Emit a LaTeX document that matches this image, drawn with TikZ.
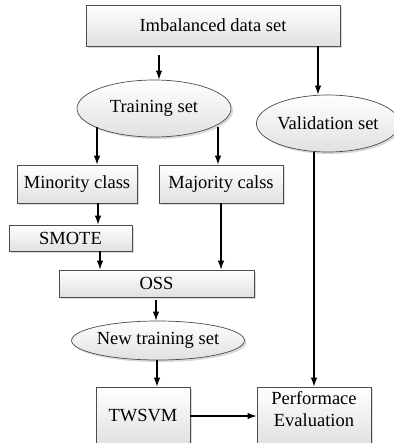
\documentclass[tikz,border=0pt]{standalone}
\usepackage{fontspec}
\setmainfont{Liberation Serif}
\usetikzlibrary{arrows.meta,shapes.geometric,shadows}
\begin{document}
\begin{tikzpicture}[x=1pt,y=-1pt,
  box/.style={draw=black!70,line width=0.7pt,rectangle,top color=white,bottom color=black!12,
    drop shadow={shadow xshift=2pt,shadow yshift=-2pt,fill=black!25,opacity=0.6},
    inner sep=0pt,font=\fontsize{18.5}{21}\selectfont},
  oval/.style={draw=black!70,line width=0.7pt,ellipse,top color=white,bottom color=black!12,
    drop shadow={shadow xshift=2pt,shadow yshift=-2pt,fill=black!25,opacity=0.6},
    inner sep=0pt,font=\fontsize{18.5}{21}\selectfont},
  txt/.style={inner sep=0pt,align=center,font=\fontsize{18.5}{22}\selectfont},
  arr/.style={-{Latex[length=9pt,width=6.5pt]},line width=1.2pt,black}]
\useasboundingbox (0,0) rectangle (393,443);
\node[box,minimum width=254pt,minimum height=41pt] (imb) at (213,25.5) {Imbalanced data set};
\node[oval,minimum width=154pt,minimum height=57pt] (train) at (154,108.5) {Training set};
\node[oval,minimum width=130pt,minimum height=57pt] (valid) at (328,123.5) {Validation set};
\node[box,minimum width=120pt,minimum height=38pt] (minority) at (77,184) {Minority class};
\node[box,minimum width=124pt,minimum height=38pt] (majority) at (221,184) {Majority calss};
\node[box,minimum width=123pt,minimum height=26pt] (smote) at (70.5,238) {SMOTE};
\node[box,minimum width=195pt,minimum height=27pt] (oss) at (156.5,283.5) {OSS};
\node[oval,minimum width=146pt,minimum height=39pt] (newtr) at (158,340.5) {New training set};
\node[box,minimum width=94pt,minimum height=58pt] (twsvm) at (143,416) {TWSVM};
\node[box,minimum width=114pt,minimum height=58pt] (perf) at (314,416) {};
\node[txt] (perftext) at (314,409) {Performace\\Evaluation};
% connectors
\draw[arr] (159,55) coordinate (a1) -- (a1 |- train.north);
\draw[arr] (318,0 |- imb.south) -- (318,0 |- valid.north);
\draw[arr] (97,127) coordinate (a2) -- (a2 |- minority.north);
\draw[arr] (218,127) coordinate (a3) -- (a3 |- majority.north);
\draw[arr] (98,0 |- minority.south) -- (98,0 |- smote.north);
\draw[arr] (100,0 |- smote.south) -- (100,0 |- oss.north);
\draw[arr] (221,0 |- majority.south) -- (221,0 |- oss.north);
\draw[arr] (314,0 |- valid.south) -- (314,0 |- perf.north);
\draw[arr] (156,300) coordinate (a4) -- (a4 |- newtr.north);
\draw[arr] (157,0 |- newtr.south) -- (157,0 |- twsvm.north);
\draw[arr] (twsvm.east) -- (perf.west);
\end{tikzpicture}
\end{document}
